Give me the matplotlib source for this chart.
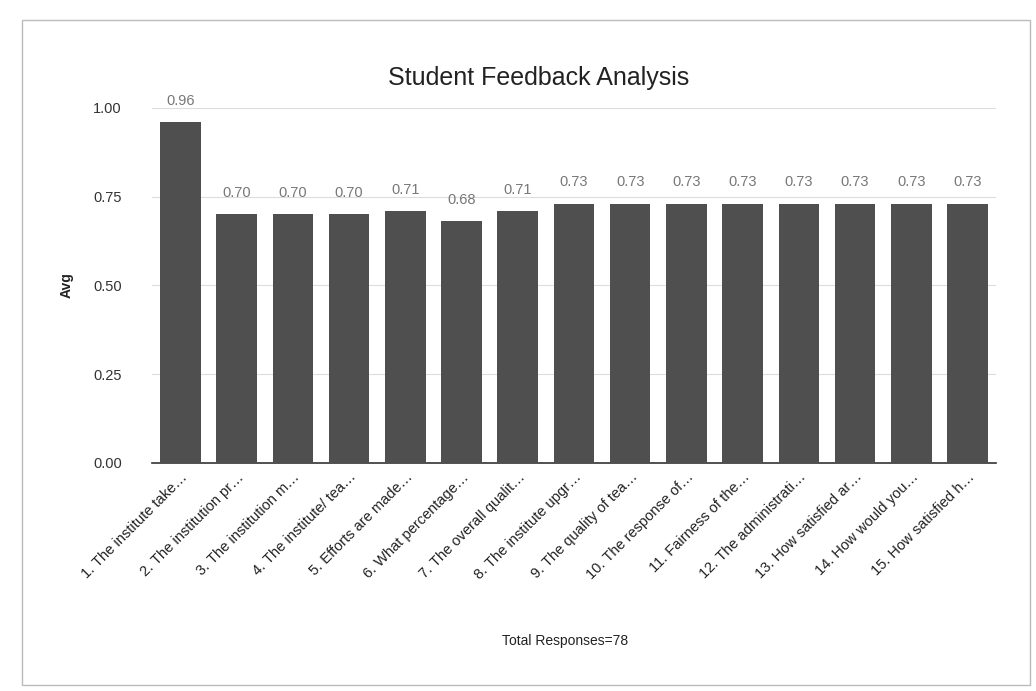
import matplotlib
matplotlib.use('Agg')
import matplotlib.pyplot as plt
import matplotlib.patches as patches
import numpy as np

plt.rcParams['font.family'] = ['Liberation Sans', 'DejaVu Sans']

# Data
questions = [
    '1. The institute take\u2026',
    '2. The institution pr\u2026',
    '3. The institution m\u2026',
    '4. The institute/ tea\u2026',
    '5. Efforts are made\u2026',
    '6. What percentage\u2026',
    '7. The overall qualit\u2026',
    '8. The institute upgr\u2026',
    '9. The quality of tea\u2026',
    '10. The response of\u2026',
    '11. Fairness of the\u2026',
    '12. The administrati\u2026',
    '13. How satisfied ar\u2026',
    '14. How would you\u2026',
    '15. How satisfied h\u2026',
]
avg = [0.96, 0.70, 0.70, 0.70, 0.71, 0.68, 0.71, 0.73, 0.73, 0.73, 0.73, 0.73, 0.73, 0.73, 0.73]
y_ticks = [0.00, 0.25, 0.50, 0.75, 1.00]

fig = plt.figure(figsize=(10.36, 6.91), dpi=100)
fig.patch.set_facecolor('white')

# card border around the chart
fig.add_artist(patches.Rectangle((0.021, 0.009), 0.973, 0.962, transform=fig.transFigure,
                                 fill=False, edgecolor='#bbbbbb', linewidth=1.0))

ax = fig.add_axes([0.147, 0.33, 0.814, 0.514])
x = np.arange(len(questions))
ax.bar(x, avg, width=0.72, color='#4f4f4f', zorder=3)

for xi, v in zip(x, avg):
    ax.text(xi, v + 0.04, f'{v:.2f}', ha='center', va='bottom', fontsize=10.5,
            color='#777777', clip_on=False)

ax.set_xlim(-0.5, len(questions) - 0.5)
ax.set_ylim(0, 1.0)
ax.set_yticks(y_ticks)
ax.set_yticklabels([f'{t:.2f}' for t in y_ticks], fontsize=10.5, color='#333333')
ax.yaxis.grid(True, color='#dddddd', linewidth=0.8, zorder=0)
ax.tick_params(axis='y', length=0, pad=22)
ax.tick_params(axis='x', length=0, pad=5)
ax.set_xticks(x)
ax.set_xticklabels(questions, rotation=45, ha='right', rotation_mode='anchor',
                   fontsize=10.5, color='#222222')
for s in ['top', 'right', 'left']:
    ax.spines[s].set_visible(False)
ax.spines['bottom'].set_color('#333333')
ax.spines['bottom'].set_linewidth(1.2)

ax.set_ylabel('Avg', fontsize=10, color='#222222', labelpad=14, fontweight='bold')
fig.text(0.52, 0.887, 'Student Feedback Analysis', ha='center', va='center',
         fontsize=18, color='#222222')
fig.text(0.545, 0.073, 'Total Responses=78', ha='center', va='center',
         fontsize=10, color='#222222')

plt.savefig('out.png', dpi=100, facecolor='white')
plt.close()
